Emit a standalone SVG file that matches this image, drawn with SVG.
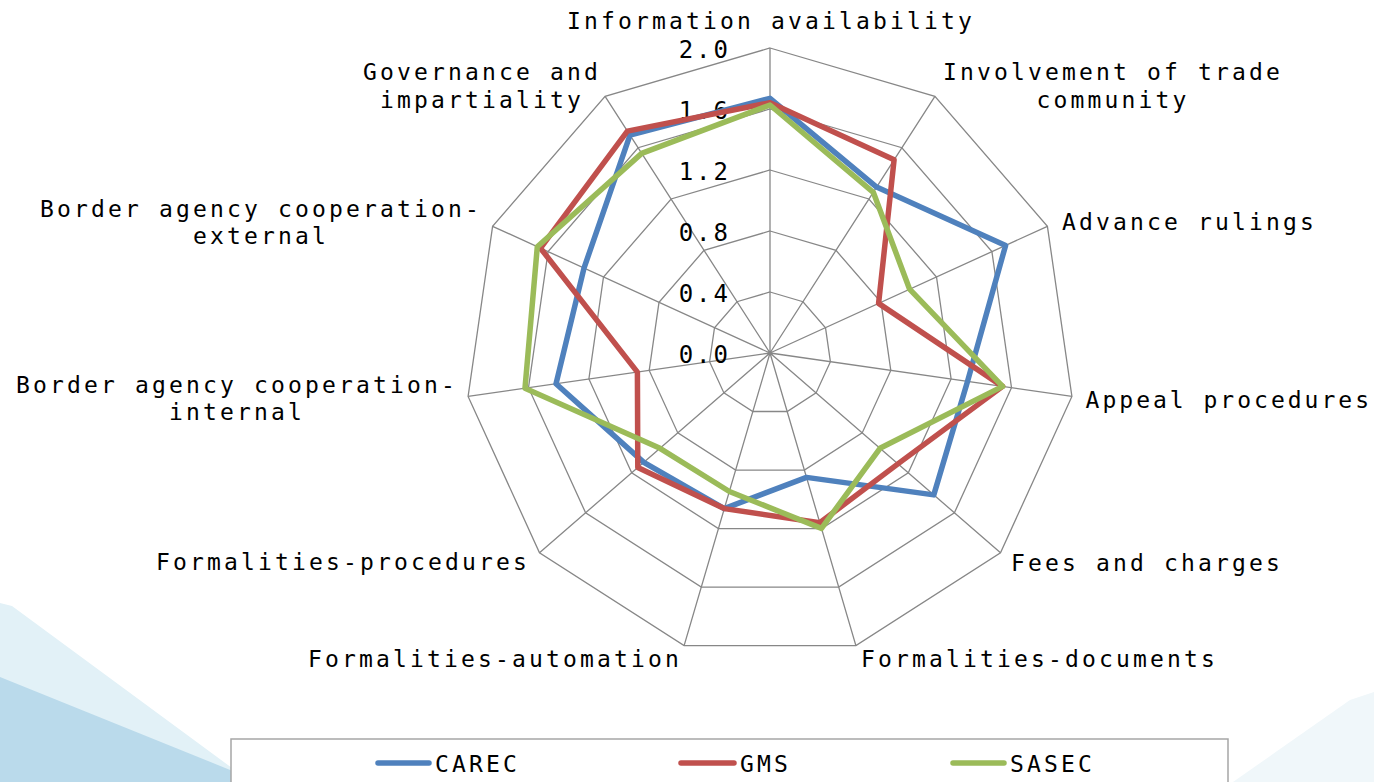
<svg xmlns="http://www.w3.org/2000/svg" width="1374" height="782" viewBox="0 0 1374 782">
<style>
.grid{fill:none;stroke:#878787;stroke-width:1.3}
.lbl{font-family:"DejaVu Sans Mono","Liberation Mono",monospace;font-size:23px;letter-spacing:3.15px;fill:#000}
.tick{font-family:"DejaVu Sans Mono","Liberation Mono",monospace;font-size:24px;letter-spacing:3px;fill:#000;text-anchor:end}
.ser{fill:none;stroke-width:5.5;stroke-linejoin:round;stroke-linecap:round}
.mid{text-anchor:middle}
.end{text-anchor:end}
</style>
<rect x="0" y="0" width="1374" height="782" fill="#ffffff"/>
<g id="background">
<polygon points="0,603 12,606 232,768 260,782 0,782" fill="#e2f1f7"/>
<polygon points="0,677 260,782 0,782" fill="#badaeb"/>
<polygon points="1233,782 1350,700 1374,692 1374,782" fill="#f0f7fa"/>
</g>
<g id="grid">
<polygon class="grid" points="770,48 934.9,96.4 1047.4,226.3 1071.9,396.4 1000.5,552.7 855.9,645.6 684.1,645.6 539.5,552.7 468.1,396.4 492.6,226.3 605.1,96.4"/>
<polygon class="grid" points="770,109 901.9,147.7 991.9,251.6 1011.5,387.7 954.4,512.8 838.7,587.1 701.3,587.1 585.6,512.8 528.5,387.7 548.1,251.6 638.1,147.7"/>
<polygon class="grid" points="770,170 868.9,199 936.5,277 951.1,379 908.3,472.8 821.6,528.6 718.4,528.6 631.7,472.8 588.9,379 603.5,277 671.1,199"/>
<polygon class="grid" points="770,231 836,250.4 881,302.3 890.8,370.4 862.2,432.9 804.4,470.1 735.6,470.1 677.8,432.9 649.2,370.4 659,302.3 704,250.4"/>
<polygon class="grid" points="770,292 803,301.7 825.5,327.7 830.4,361.7 816.1,392.9 787.2,411.5 752.8,411.5 723.9,392.9 709.6,361.7 714.5,327.7 737,301.7"/>
<path class="grid" d="M770,353L770,48M770,353L934.9,96.4M770,353L1047.4,226.3M770,353L1071.9,396.4M770,353L1000.5,552.7M770,353L855.9,645.6M770,353L684.1,645.6M770,353L539.5,552.7M770,353L468.1,396.4M770,353L492.6,226.3M770,353L605.1,96.4"/>
</g>
<g id="ticks">
<text class="tick" x="731" y="58">2.0</text>
<text class="tick" x="731" y="119">1.6</text>
<text class="tick" x="731" y="180">1.2</text>
<text class="tick" x="731" y="241">0.8</text>
<text class="tick" x="731" y="302">0.4</text>
<text class="tick" x="731" y="363">0.0</text>
</g>
<g id="series">
<polygon id="CAREC" class="ser" stroke="#4f81bd" points="770,98.3 876.6,187.1 1005.6,245.4 967.5,381.4 933.8,494.9 806.5,477.4 724.3,508.6 643.8,462.4 556,383.8 584,268.1 630,135.1"/>
<polygon id="GMS" class="ser" stroke="#c0504d" points="770,102.7 894.1,159.8 878.6,303.4 1002.6,386.4 897.9,463.9 819.8,522.7 724.3,508.6 637.8,467.6 637.4,372.1 540.5,248.2 627.4,131.1"/>
<polygon id="SASEC" class="ser" stroke="#9bbb59" points="770,105 873.3,192.3 909.6,289.2 1002.6,386.4 880,448.3 821.5,528.4 729.4,491.5 660,448.3 525,388.2 537.3,246.7 641.7,153.4"/>
</g>
<g id="axis-labels">
<text class="lbl mid" x="771" y="29">Information availability</text>
<text class="lbl mid" x="1113" y="80">Involvement of trade</text>
<text class="lbl mid" x="1113" y="108">community</text>
<text class="lbl" x="1062" y="230">Advance rulings</text>
<text class="lbl end" x="1372" y="408" style="letter-spacing:3px">Appeal procedures</text>
<text class="lbl" x="1011" y="571">Fees and charges</text>
<text class="lbl" x="861" y="667">Formalities-documents</text>
<text class="lbl end" x="682" y="667">Formalities-automation</text>
<text class="lbl end" x="530" y="570">Formalities-procedures</text>
<text class="lbl mid" x="237" y="393">Border agency cooperation-</text>
<text class="lbl mid" x="237" y="420">internal</text>
<text class="lbl mid" x="261" y="217">Border agency cooperation-</text>
<text class="lbl mid" x="261" y="244">external</text>
<text class="lbl mid" x="482" y="80">Governance and</text>
<text class="lbl mid" x="482" y="108">impartiality</text>
</g>
<g id="legend">
<rect x="231" y="739" width="997" height="60" fill="#ffffff" stroke="#a6a6a6" stroke-width="1.5"/>
<line class="ser" x1="378" y1="763" x2="429" y2="763" stroke="#4f81bd"/>
<text class="lbl" x="435" y="772">CAREC</text>
<line class="ser" x1="681" y1="763" x2="734" y2="763" stroke="#c0504d"/>
<text class="lbl" x="740" y="772">GMS</text>
<line class="ser" x1="953" y1="763" x2="1004" y2="763" stroke="#9bbb59"/>
<text class="lbl" x="1010" y="772">SASEC</text>
</g>
</svg>
